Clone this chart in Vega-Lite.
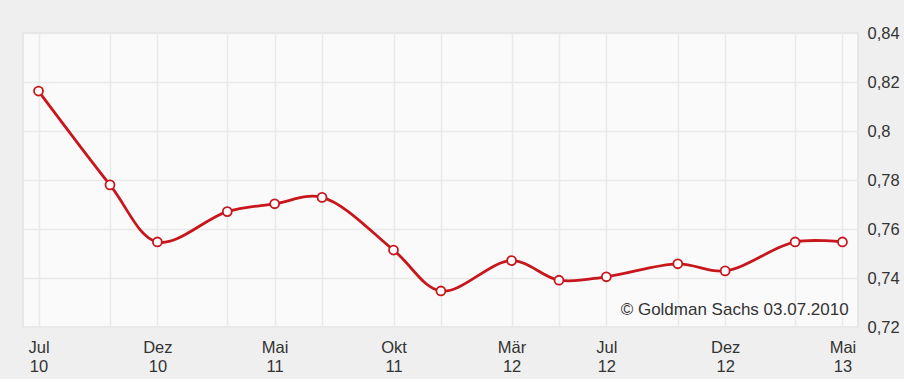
{
  "$schema": "https://vega.github.io/schema/vega-lite/v6.json",
  "width": 835,
  "height": 294,
  "autosize": {"type": "pad"},
  "padding": {"left": 23, "top": 25, "right": 4, "bottom": 4},
  "background": "#efefef",
  "config": {
    "view": {"fill": "#fafafa", "stroke": "#e2e2e2", "strokeWidth": 1.5},
    "axis": {
      "labelFont": "Liberation Sans",
      "labelFontSize": 16.5,
      "labelColor": "#333333",
      "gridColor": "#e9e9e9",
      "gridWidth": 1.5,
      "domain": false,
      "ticks": false,
      "title": null
    }
  },
  "data": {
    "values": [
      {"date": "2010-07-01T00:00", "value": 0.8163},
      {"date": "2010-10-01T00:00", "value": 0.7780},
      {"date": "2010-12-01T00:00", "value": 0.7547},
      {"date": "2011-03-01T00:00", "value": 0.7671},
      {"date": "2011-05-01T00:00", "value": 0.7703},
      {"date": "2011-07-01T00:00", "value": 0.7729},
      {"date": "2011-10-01T00:00", "value": 0.7514},
      {"date": "2011-12-01T00:00", "value": 0.7347},
      {"date": "2012-03-01T00:00", "value": 0.7471},
      {"date": "2012-05-01T00:00", "value": 0.7391},
      {"date": "2012-07-01T00:00", "value": 0.7405},
      {"date": "2012-10-01T00:00", "value": 0.7458},
      {"date": "2012-12-01T00:00", "value": 0.7429},
      {"date": "2013-03-01T00:00", "value": 0.7547},
      {"date": "2013-05-01T00:00", "value": 0.7547}
    ]
  },
  "encoding": {
    "x": {
      "field": "date",
      "type": "temporal",
      "scale": {"domain": [{"year": 2010, "month": 6, "date": 11}, {"year": 2013, "month": 5, "date": 21}]},
      "axis": {
        "orient": "bottom",
        "grid": true,
        "labelPadding": 12,
        "labelLineHeight": 19.5,
        "labelAlign": "center",
        "labelOverlap": false,
        "values": [
          {"year": 2010, "month": 7, "date": 1},
          {"year": 2010, "month": 10, "date": 1},
          {"year": 2010, "month": 12, "date": 1},
          {"year": 2011, "month": 3, "date": 1},
          {"year": 2011, "month": 5, "date": 1},
          {"year": 2011, "month": 7, "date": 1},
          {"year": 2011, "month": 10, "date": 1},
          {"year": 2011, "month": 12, "date": 1},
          {"year": 2012, "month": 3, "date": 1},
          {"year": 2012, "month": 5, "date": 1},
          {"year": 2012, "month": 7, "date": 1},
          {"year": 2012, "month": 10, "date": 1},
          {"year": 2012, "month": 12, "date": 1},
          {"year": 2013, "month": 3, "date": 1},
          {"year": 2013, "month": 5, "date": 1}
        ],
        "labelExpr": "indexof(['6-2010','11-2010','4-2011','9-2011','2-2012','6-2012','11-2012','4-2013'], month(datum.value) + '-' + year(datum.value)) >= 0 ? [['Jan','Feb','Mär','Apr','Mai','Jun','Jul','Aug','Sep','Okt','Nov','Dez'][month(datum.value)], timeFormat(datum.value, '%y')] : ''"
      }
    },
    "y": {
      "field": "value",
      "type": "quantitative",
      "scale": {"domain": [0.72, 0.84], "nice": false, "zero": false},
      "axis": {
        "orient": "right",
        "grid": true,
        "labelPadding": 9,
        "values": [0.72, 0.74, 0.76, 0.78, 0.8, 0.82, 0.84],
        "labelExpr": "replace(format(datum.value, '.2~f'), '.', ',')"
      }
    }
  },
  "layer": [
    {
      "mark": {"type": "line", "interpolate": "catmull-rom", "color": "#c8161d", "strokeWidth": 2.8}
    },
    {
      "mark": {"type": "point", "filled": true, "fill": "#ffffff", "stroke": "#c8161d", "strokeWidth": 1.8, "size": 80, "opacity": 1}
    },
    {
      "data": {"values": [{"label": "© Goldman Sachs 03.07.2010", "date": "2013-05-09T00:00", "value": 0.7269}]},
      "mark": {"type": "text", "align": "right", "baseline": "middle", "font": "Liberation Sans", "fontSize": 17, "color": "#333333"},
      "encoding": {
        "text": {"field": "label", "type": "nominal"}
      }
    }
  ]
}
